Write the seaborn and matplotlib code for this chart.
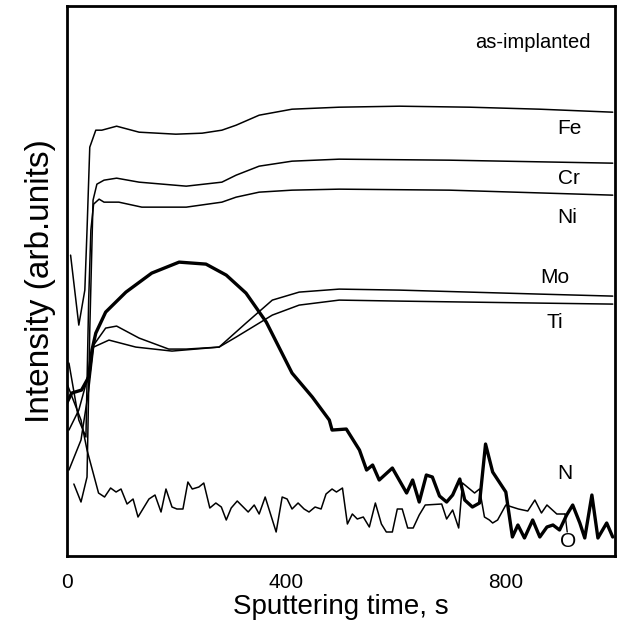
import matplotlib
matplotlib.use("Agg")
import matplotlib.pyplot as plt
import numpy as np
import pandas as pd
import seaborn as sns

# AES depth profile, as-implanted sample (arb. units)
t_fe = [7, 22, 33, 37, 42, 53, 64, 91, 132, 199, 247, 283, 309, 351, 411, 497, 607, 735, 863, 996]
i_fe = [301, 231, 266, 326, 409, 426, 426, 430, 424, 422, 423, 426, 431, 441, 447, 449, 450, 449, 447, 444]

t_cr = [13, 26, 37, 42, 48, 55, 68, 91, 132, 218, 283, 309, 351, 411, 497, 698, 996]
i_cr = [72, 54, 79, 226, 356, 372, 376, 378, 374, 370, 374, 381, 390, 395, 397, 396, 393]

t_ni = [4, 22, 35, 40, 44, 49, 59, 68, 95, 137, 218, 283, 309, 351, 411, 497, 698, 996]
i_ni = [193, 136, 119, 256, 326, 352, 357, 354, 354, 349, 349, 354, 359, 364, 366, 367, 366, 361]

t_mo = [4, 22, 37, 49, 71, 91, 132, 186, 218, 278, 327, 375, 424, 497, 607, 735, 863, 996]
i_mo = [126, 146, 176, 211, 228, 230, 218, 207, 207, 209, 233, 256, 264, 267, 266, 264, 262, 260]

t_ti = [4, 26, 40, 49, 77, 126, 192, 278, 309, 375, 424, 497, 607, 735, 863, 996]
i_ti = [86, 116, 166, 209, 216, 209, 205, 209, 219, 241, 251, 256, 255, 254, 253, 252]

t_n = [0, 9, 27, 40, 46, 53, 71, 108, 155, 205, 254, 291, 327, 364, 411, 448, 479, 484, 510, 534,
       547, 558, 570, 594, 620, 631, 643, 656, 667, 680, 693, 704, 717, 726, 740, 753, 764, 777, 801, 813,
       823, 835, 850, 863, 876, 887, 899, 912, 923, 936, 945, 958, 969, 985, 996]
i_n = [153, 163, 166, 179, 206, 223, 244, 264, 283, 294, 292, 281, 263, 234, 183, 159, 136, 126, 127, 106,
       86, 91, 76, 88, 63, 76, 54, 81, 79, 60, 54, 61, 77, 56, 49, 53, 112, 84, 64, 19,
       31, 18, 36, 19, 29, 31, 26, 41, 51, 33, 18, 61, 18, 33, 19]

t_o = [0, 26, 37, 58, 69, 80, 90, 99, 110, 121, 130, 150, 161, 172, 181, 192, 201, 212, 221, 229,
       241, 250, 261, 272, 282, 291, 300, 311, 331, 342, 351, 362, 382, 393, 402, 411, 422, 433, 442, 453,
       464, 473, 484, 492, 503, 512, 521, 530, 541, 552, 563, 574, 583, 594, 603, 612, 622, 632, 643, 654,
       684, 693, 704, 715, 722, 744, 753, 762, 771, 777, 786, 801, 824, 841, 854, 866, 876, 894, 909]
i_o = [173, 136, 106, 63, 59, 68, 64, 67, 52, 57, 39, 57, 61, 44, 67, 49, 47, 47, 74, 67,
       69, 73, 48, 53, 49, 36, 48, 55, 44, 51, 42, 59, 24, 59, 57, 47, 53, 47, 44, 49,
       47, 62, 67, 64, 68, 32, 42, 37, 39, 29, 53, 32, 24, 24, 47, 47, 28, 28, 41, 51,
       52, 37, 46, 28, 73, 63, 67, 39, 36, 33, 36, 51, 47, 45, 56, 43, 51, 42, 42]

labels = ["Fe", "Cr", "Ni", "Mo", "Ti", "N"]
label_t = [917, 917, 913, 890, 890, 908]
label_i = [428, 378, 339, 279, 234, 83]

sns.set_style("white")
plt.rcParams['font.family'] = ['Liberation Sans', 'DejaVu Sans']
plt.rcParams.update({'text.color': 'black', 'axes.labelcolor': 'black',
                     'xtick.color': 'black', 'ytick.color': 'black'})

fig = plt.figure(figsize=(6.18, 6.24), dpi=100)
ax = fig.add_axes([0.108, 0.109, 0.887, 0.881])

thin = [(t_fe, i_fe), (t_cr, i_cr), (t_ni, i_ni), (t_mo, i_mo), (t_ti, i_ti), (t_o, i_o)]
for tt, ii in thin:
    sns.lineplot(x=tt, y=ii, ax=ax, color="black", lw=1.1, sort=False, estimator=None)
sns.lineplot(x=t_n, y=i_n, ax=ax, color="black", lw=2.4, sort=False, estimator=None)

for lab, lt, li in zip(labels, label_t, label_i):
    ax.text(lt, li, lab, fontsize=15, ha="center", va="center")
ax.text(850, 514, "as-implanted", fontsize=14.5, ha="center", va="center")
# oxygen label with leader
ax.plot([909, 913], [42, 24], color="black", lw=1.0)
ax.text(915, 14, "O", fontsize=15, ha="center", va="center")

ax.set_xlim(0, 1000)
ax.set_ylim(0, 550)
ax.set_xticks([0, 400, 800])
ax.set_xticks([200, 600], minor=True)
ax.set_yticks([])
ax.tick_params(axis="x", which="both", direction="in", length=8, width=2,
               labelsize=15, pad=12)
for s in ax.spines.values():
    s.set_linewidth(2)
    s.set_color("black")
ax.set_xlabel("Sputtering time, s", fontsize=20, labelpad=2)
ax.set_ylabel("Intensity (arb.units)", fontsize=24, labelpad=8)

fig.savefig("out.png", dpi=100)
